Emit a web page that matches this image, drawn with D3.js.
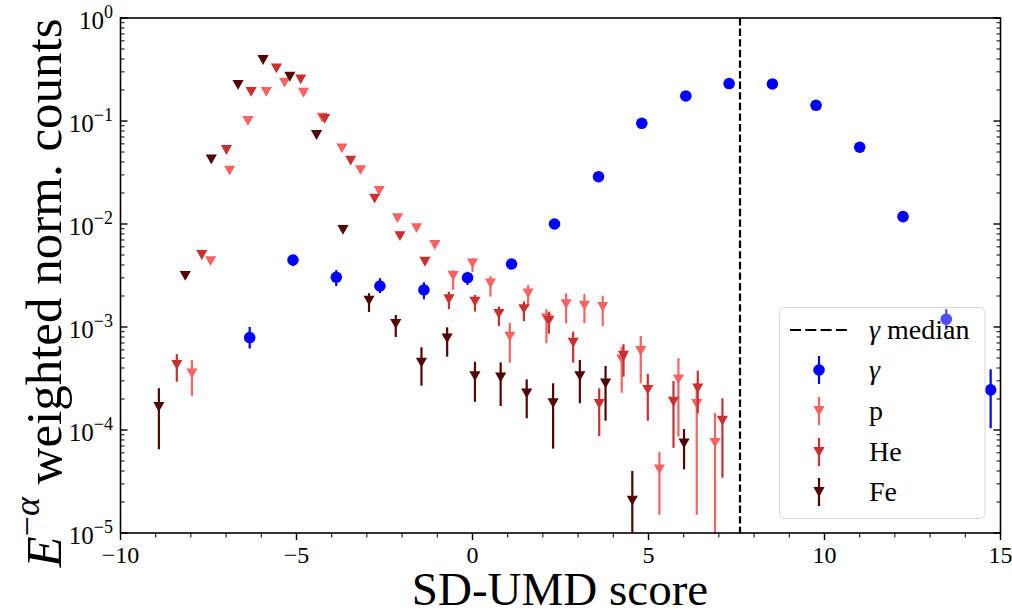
<!DOCTYPE html>
<html>
<head>
<meta charset="utf-8">
<script src="https://cdn.jsdelivr.net/npm/d3@7"></script>
<style>
  body { margin: 0; background: #fff; }
  text { font-family: "Liberation Serif", "DejaVu Serif", serif; }
</style>
</head>
<body>
<svg id="plotSVG" width="1012" height="612"></svg>
<script>
// values (y = weighted norm. counts, lo/hi = error bar ends)
let gammaX  = [-6.33, -5.10, -3.87, -2.63, -1.38, -0.14, 1.11, 2.33, 3.58, 4.81, 6.06, 7.29, 8.52, 9.76, 11.0, 12.23, 13.46, 14.72];
let gammaY  = [7.9e-4, 4.47e-3, 3.04e-3, 2.5e-3, 2.29e-3, 3.01e-3, 4.09e-3, 0.0100, 0.0288, 0.095, 0.175, 0.231, 0.229, 0.142, 0.0556, 0.0118, 1.19e-3, 2.45e-4];
let gammaLo = [6.2e-4, 3.9e-3, 2.5e-3, 2.13e-3, 1.86e-3, 2.56e-3, 3.8e-3, 0.0096, 0.0282, 0.094, 0.174, 0.230, 0.228, 0.141, 0.0550, 0.0115, 9.35e-4, 1.04e-4];
let gammaHi = [1.0e-3, 5.0e-3, 3.57e-3, 2.98e-3, 2.72e-3, 3.44e-3, 4.4e-3, 0.0104, 0.0294, 0.096, 0.176, 0.232, 0.230, 0.143, 0.0562, 0.0121, 1.49e-3, 3.88e-4];

let pX  = [-7.97, -7.44, -6.90, -6.38, -5.86, -5.34, -4.80, -4.27, -3.71, -3.18, -2.65, -2.13, -1.59, -1.07, -0.55, 0.0, 0.51, 1.06, 1.58, 2.10, 2.66, 3.18, 3.70, 4.24, 4.78, 5.31, 5.85, 6.37, 6.89];
let pY  = [3.55e-4, 4.37e-3, 0.033, 0.100, 0.192, 0.236, 0.188, 0.108, 0.0543, 0.0334, 0.021, 0.0114, 9.1e-3, 6.25e-3, 3.13e-3, 4.15e-3, 2.65e-3, 8.05e-4, 2.12e-3, 1.21e-3, 1.67e-3, 1.61e-3, 1.57e-3, 4.86e-4, 5.85e-4, 4.15e-5, 3.1e-4, 1.79e-4, 7.5e-5];
let pLo = [2.15e-4, 4.1e-3, 0.032, 0.098, 0.190, 0.234, 0.186, 0.106, 0.0535, 0.0328, 0.0205, 0.0110, 8.7e-3, 5.9e-3, 2.29e-3, 3.43e-3, 1.97e-3, 4.5e-4, 1.57e-3, 6.95e-4, 1.09e-3, 1.09e-3, 1.02e-3, 2.3e-4, 2.84e-4, 1.5e-5, 8.6e-5, 1.5e-5, 4e-6];
let pHi = [4.79e-4, 4.65e-3, 0.034, 0.102, 0.194, 0.238, 0.190, 0.110, 0.0551, 0.0340, 0.0215, 0.0118, 9.5e-3, 6.6e-3, 3.57e-3, 4.66e-3, 3.12e-3, 1.1e-3, 2.56e-3, 1.49e-3, 2.12e-3, 2.09e-3, 2.01e-3, 6.44e-4, 8.18e-4, 6.15e-5, 4.97e-4, 2.86e-4, 1.46e-4];

let heX  = [-8.40, -7.69, -6.99, -6.29, -5.57, -4.88, -4.20, -3.46, -2.78, -2.06, -1.35, -0.67, 0.07, 0.75, 1.46, 2.17, 2.86, 3.60, 4.29, 4.98, 5.71, 6.40, 7.10];
let heY  = [4.28e-4, 5.0e-3, 0.0523, 0.192, 0.325, 0.254, 0.105, 0.0412, 0.0176, 7.64e-3, 4.3e-3, 1.86e-3, 1.76e-3, 1.34e-3, 1.49e-3, 1.15e-3, 7.05e-4, 1.79e-4, 5.26e-4, 2.45e-4, 1.88e-4, 2.54e-4, 1.23e-4];
let heLo = [2.94e-4, 4.75e-3, 0.0515, 0.190, 0.322, 0.251, 0.103, 0.0405, 0.0171, 7.3e-3, 4.05e-3, 1.49e-3, 1.41e-3, 1.02e-3, 1.14e-3, 8.6e-4, 4.5e-4, 8.75e-5, 3.29e-4, 1.23e-4, 6.7e-5, 1.45e-4, 3.44e-5];
let heHi = [5.47e-4, 5.25e-3, 0.0531, 0.194, 0.328, 0.257, 0.107, 0.0419, 0.0181, 8.0e-3, 4.55e-3, 2.2e-3, 2.05e-3, 1.58e-3, 1.77e-3, 1.41e-3, 9.0e-4, 2.54e-4, 6.8e-4, 3.5e-4, 2.99e-4, 3.77e-4, 2.03e-4];

let feX  = [-8.91, -8.16, -7.42, -6.66, -5.95, -5.19, -4.43, -3.68, -2.94, -2.18, -1.45, -0.72, 0.07, 0.80, 1.54, 2.29, 3.05, 3.78, 4.54, 6.01];
let feY  = [1.68e-4, 3.13e-3, 0.0425, 0.224, 0.391, 0.269, 0.0731, 8.75e-3, 1.8e-3, 1.07e-3, 4.5e-4, 7.76e-4, 3.34e-4, 3.25e-4, 2.27e-4, 1.82e-4, 3.34e-4, 2.84e-4, 2.06e-5, 7.43e-5];
let feLo = [6.5e-5, 2.95e-3, 0.0418, 0.222, 0.388, 0.266, 0.0722, 8.4e-3, 1.4e-3, 8.0e-4, 2.69e-4, 5.15e-4, 1.88e-4, 1.71e-4, 1.3e-4, 6.6e-5, 1.82e-4, 1.23e-4, 4e-6, 4.15e-5];
let feHi = [2.54e-4, 3.3e-3, 0.0432, 0.226, 0.394, 0.272, 0.0740, 9.1e-3, 2.13e-3, 1.31e-3, 6.35e-4, 9.93e-4, 4.6e-4, 4.54e-4, 3.1e-4, 2.84e-4, 4.79e-4, 4.18e-4, 4.0e-5, 1.02e-4];

let gammaMedian = 7.6;

let xMajor = [-10, -5, 0, 5, 10, 15];
let xTickLabels = ["\u221210", "\u22125", "0", "5", "10", "15"];
let yMajorExp = [0, -1, -2, -3, -4, -5];
let yTickLabels = ["0", "\u22121", "\u22122", "\u22123", "\u22124", "\u22125"];

let series = [
  {name: "\u03b3", x: gammaX, y: gammaY, lo: gammaLo, hi: gammaHi, color: "#0000ff", marker: "circle"},
  {name: "p",  x: pX,  y: pY,  lo: pLo,  hi: pHi,  color: "#f76262", marker: "tri"},
  {name: "He", x: heX, y: heY, lo: heLo, hi: heHi, color: "#c93030", marker: "tri"},
  {name: "Fe", x: feX, y: feY, lo: feLo, hi: feHi, color: "#510505", marker: "tri"}
];

let serif = "'Liberation Serif', 'DejaVu Serif', serif";

// plot box
let pLeft = 120.5, pRight = 1000.5, pTop = 18, pBottom = 533;

let svg = d3.select("#plotSVG");

let xScale = d3.scaleLinear().domain([-10, 15]).range([pLeft, pRight]);
let yScale = d3.scaleLog().domain([1e-5, 1]).range([pBottom, pTop]);

svg.append("clipPath").attr("id", "clip")
  .append("rect")
  .attr("x", pLeft).attr("y", pTop)
  .attr("width", pRight - pLeft).attr("height", pBottom - pTop);

let plot = svg.append("g").attr("clip-path", "url(#clip)");

// median line
plot.append("line")
  .attr("x1", xScale(gammaMedian)).attr("x2", xScale(gammaMedian))
  .attr("y1", pTop).attr("y2", pBottom)
  .attr("stroke", "black").attr("stroke-width", 2.2)
  .attr("stroke-dasharray", "7.4,3.2");

let tri = "M-5.6,-4.9L5.6,-4.9L0,4.9Z";

function drawMarker(g, s) {
  if (s.marker == "circle") {
    g.append("circle").attr("r", 5.8).attr("fill", s.color);
  } else {
    g.append("path").attr("d", tri).attr("fill", s.color);
  }
}

series.forEach(s => {
  let pts = s.x.map((x, i) => ({x: x, y: s.y[i], lo: s.lo[i], hi: s.hi[i]}));
  let g = plot.append("g");
  g.selectAll(".err")
    .data(pts)
    .join("line")
    .attr("class", "err")
    .attr("x1", d => xScale(d.x)).attr("x2", d => xScale(d.x))
    .attr("y1", d => yScale(d.lo)).attr("y2", d => yScale(d.hi))
    .attr("stroke", s.color).attr("stroke-width", 2.2);
  g.selectAll(".pt")
    .data(pts)
    .join("g")
    .attr("class", "pt")
    .attr("transform", d => "translate(" + xScale(d.x) + "," + yScale(d.y) + ")")
    .each(function() { drawMarker(d3.select(this), s); });
});

// frame
svg.append("rect")
  .attr("x", pLeft).attr("y", pTop)
  .attr("width", pRight - pLeft).attr("height", pBottom - pTop)
  .attr("fill", "none").attr("stroke", "black").attr("stroke-width", 1.6);

// x ticks (outward)
let xMinor = d3.range(-10, 16, 1).filter(v => xMajor.indexOf(v) < 0);
svg.append("g").selectAll("line")
  .data(xMinor).join("line")
  .attr("x1", d => xScale(d)).attr("x2", d => xScale(d))
  .attr("y1", pBottom).attr("y2", pBottom + 4.5)
  .attr("stroke", "black").attr("stroke-width", 1);
svg.append("g").selectAll("line")
  .data(xMajor).join("line")
  .attr("x1", d => xScale(d)).attr("x2", d => xScale(d))
  .attr("y1", pBottom).attr("y2", pBottom + 7)
  .attr("stroke", "black").attr("stroke-width", 1.4);
svg.append("g").selectAll("text")
  .data(xMajor).join("text")
  .attr("x", d => xScale(d)).attr("y", 563)
  .attr("text-anchor", "middle")
  .style("font-family", serif)
  .style("font-size", "24px")
  .text((d, i) => xTickLabels[i]);

// y ticks (inward, left and right)
let yMinor = [];
for (let e = -5; e < 0; e++) for (let k = 2; k < 10; k++) yMinor.push(k * Math.pow(10, e));
[pLeft, pRight].forEach(ax => {
  let dir = ax == pLeft ? 1 : -1;
  svg.append("g").selectAll("line")
    .data(yMinor).join("line")
    .attr("x1", ax).attr("x2", ax + dir * 4)
    .attr("y1", d => yScale(d)).attr("y2", d => yScale(d))
    .attr("stroke", "black").attr("stroke-width", 1);
  svg.append("g").selectAll("line")
    .data(yMajorExp).join("line")
    .attr("x1", ax).attr("x2", ax + dir * 7)
    .attr("y1", d => yScale(Math.pow(10, d))).attr("y2", d => yScale(Math.pow(10, d)))
    .attr("stroke", "black").attr("stroke-width", 1.4);
});
let yl = svg.append("g").selectAll("text")
  .data(yMajorExp).join("text")
  .attr("x", 113).attr("y", d => yScale(Math.pow(10, d)) + 11)
  .attr("text-anchor", "end")
  .style("font-family", serif)
  .style("font-size", "25px");
yl.append("tspan").text("10");
yl.append("tspan").attr("dy", -11).style("font-size", "18px").text((d, i) => yTickLabels[i]);

// axis labels
svg.append("text")
  .attr("x", 560).attr("y", 605)
  .attr("text-anchor", "middle")
  .style("font-family", serif)
  .style("font-size", "47px")
  .text("SD-UMD score");

let ylab = svg.append("text")
  .attr("transform", "translate(61,293) rotate(-90)")
  .attr("text-anchor", "middle")
  .style("font-family", serif)
  .style("font-size", "51px");
ylab.append("tspan").style("font-style", "italic").text("E");
ylab.append("tspan").attr("dy", -22).style("font-size", "36px").text("\u2212");
ylab.append("tspan").style("font-size", "36px").style("font-style", "italic").text("\u03b1");
ylab.append("tspan").attr("dy", 22).text(" weighted norm. counts");

// legend
let lg = svg.append("g");
lg.append("rect")
  .attr("x", 779.5).attr("y", 307.5).attr("width", 205.5).attr("height", 211)
  .attr("rx", 5)
  .attr("fill", "white").attr("fill-opacity", 0.3)
  .attr("stroke", "#d8d8d8").attr("stroke-width", 1);

let rowY = [330, 370, 411, 452, 492];
lg.append("line")
  .attr("x1", 790).attr("x2", 847).attr("y1", rowY[0]).attr("y2", rowY[0])
  .attr("stroke", "black").attr("stroke-width", 2.2)
  .attr("stroke-dasharray", "11,4.3");
let medText = lg.append("text").attr("x", 869).attr("y", rowY[0] + 9)
  .style("font-family", serif).style("font-size", "28px");
medText.append("tspan").style("font-style", "italic").text("\u03b3");
medText.append("tspan").text(" median");

series.forEach((s, i) => {
  let ry = rowY[i + 1];
  lg.append("line")
    .attr("x1", 819).attr("x2", 819).attr("y1", ry - 14).attr("y2", ry + 14)
    .attr("stroke", s.color).attr("stroke-width", 2.2);
  let m = lg.append("g").attr("transform", "translate(819," + ry + ")");
  drawMarker(m, s);
  lg.append("text")
    .attr("x", 869).attr("y", ry + 9)
    .style("font-family", serif)
    .style("font-size", "28px")
    .style("font-style", s.marker == "circle" ? "italic" : "normal")
    .text(s.name);
});
</script>
</body>
</html>
